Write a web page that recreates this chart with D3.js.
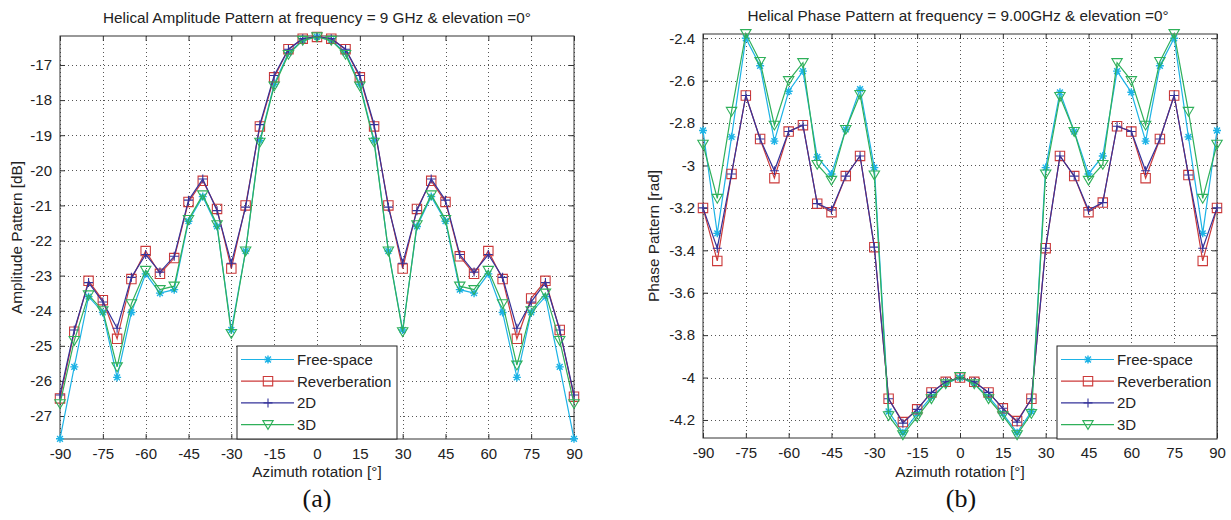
<!DOCTYPE html>
<html>
<head>
<meta charset="utf-8">
<script src="https://cdn.jsdelivr.net/npm/d3@7"></script>
<style>
  body { margin: 0; background: #fff; }
  svg { display: block; }
  text.sans { font-family: "Liberation Sans", Arial, Helvetica, sans-serif; fill: #222; }
  text.serif { font-family: "Liberation Serif", "Times New Roman", serif; fill: #111; }
</style>
</head>
<body>
<svg id="chart" width="1231" height="520"></svg>
<script>
// Azimuth angles (degrees)
const azimuth = [-90,-85,-80,-75,-70,-65,-60,-55,-50,-45,-40,-35,-30,-25,-20,-15,-10,-5,0,
                 5,10,15,20,25,30,35,40,45,50,55,60,65,70,75,80,85,90];

// Amplitude pattern [dB]
const ampFree = [-27.65,-25.6,-23.6,-24.05,-25.9,-24.05,-22.95,-23.5,-23.4,-21.45,-20.75,-21.6,-24.55,-22.3,-19.15,-17.55,-16.65,-16.3,-16.2,
                 -16.3,-16.65,-17.55,-19.15,-22.3,-24.55,-21.6,-20.75,-21.45,-23.4,-23.5,-22.95,-24.05,-25.9,-24.05,-23.6,-25.6,-27.65];
const ampRev  = [-26.5,-24.6,-23.15,-23.7,-24.8,-23.1,-22.3,-22.95,-22.5,-20.9,-20.3,-21.1,-22.8,-21.0,-18.75,-17.35,-16.55,-16.25,-16.2,
                 -16.25,-16.55,-17.35,-18.75,-21.0,-22.8,-21.1,-20.3,-20.9,-22.45,-22.95,-22.3,-23.1,-24.8,-23.65,-23.15,-24.55,-26.45];
const amp2D   = [-26.4,-24.55,-23.2,-23.75,-24.5,-23.05,-22.4,-22.9,-22.45,-20.85,-20.25,-21.15,-22.65,-21.05,-18.7,-17.3,-16.55,-16.25,-16.2,
                 -16.25,-16.55,-17.3,-18.7,-21.05,-22.65,-21.15,-20.25,-20.85,-22.4,-22.9,-22.4,-23.05,-24.5,-23.75,-23.2,-24.55,-26.4];
const amp3D   = [-26.65,-24.85,-23.55,-24.0,-25.6,-23.8,-22.85,-23.4,-23.3,-21.4,-20.7,-21.55,-24.65,-22.3,-19.2,-17.6,-16.7,-16.3,-16.2,
                 -16.3,-16.7,-17.6,-19.2,-22.3,-24.6,-21.55,-20.7,-21.4,-23.3,-23.4,-22.85,-23.8,-25.55,-24.0,-23.5,-24.85,-26.65];

// Phase pattern [rad]
const phFree = [-2.835,-3.32,-2.865,-2.40,-2.53,-2.885,-2.65,-2.555,-2.96,-3.04,-2.83,-2.64,-3.01,-4.16,-4.26,-4.17,-4.09,-4.03,-4.0,
                -4.03,-4.09,-4.17,-4.26,-4.16,-3.01,-2.655,-2.84,-3.04,-2.955,-2.555,-2.655,-2.885,-2.53,-2.40,-2.865,-3.32,-2.835];
const phRev  = [-3.2,-3.45,-3.04,-2.67,-2.875,-3.06,-2.84,-2.81,-3.18,-3.22,-3.05,-2.955,-3.385,-4.10,-4.21,-4.15,-4.07,-4.02,-4.0,
                -4.02,-4.07,-4.145,-4.205,-4.10,-3.39,-2.955,-3.05,-3.22,-3.175,-2.815,-2.84,-3.06,-2.875,-2.67,-3.045,-3.45,-3.2];
const ph2D   = [-3.2,-3.39,-3.04,-2.67,-2.875,-3.025,-2.84,-2.81,-3.18,-3.21,-3.05,-2.955,-3.385,-4.10,-4.215,-4.15,-4.07,-4.02,-4.0,
                -4.02,-4.07,-4.145,-4.21,-4.10,-3.39,-2.955,-3.05,-3.21,-3.175,-2.815,-2.84,-3.025,-2.875,-2.67,-3.045,-3.39,-3.2];
const ph3D   = [-2.9,-3.155,-2.745,-2.378,-2.51,-2.81,-2.60,-2.515,-2.995,-3.07,-2.83,-2.665,-3.045,-4.18,-4.27,-4.185,-4.10,-4.03,-3.995,
                -4.03,-4.10,-4.18,-4.27,-4.17,-3.04,-2.675,-2.84,-3.07,-2.995,-2.515,-2.60,-2.81,-2.51,-2.378,-2.745,-3.155,-2.9];

const seriesNames  = ["Free-space", "Reverberation", "2D", "3D"];
const seriesColors = ["#1db3e6", "#cc3a3a", "#35339a", "#2fb05a"];
const seriesMarks  = ["star", "square", "plus", "triangle"];

// Tick labels
const xTicks     = [-90,-75,-60,-45,-30,-15,0,15,30,45,60,75,90];
const ampTicks   = [-27,-26,-25,-24,-23,-22,-21,-20,-19,-18,-17];
const phaseTicks = [-4.2,-4.0,-3.8,-3.6,-3.4,-3.2,-3.0,-2.8,-2.6,-2.4];

const svg = d3.select("#chart");
svg.append("rect").attr("width", 1231).attr("height", 520).attr("fill", "#fff");

function marker(g, type, color) {
  const p = {
    star: "M-4,0H4M0,-4V4M-2.9,-2.9L2.9,2.9M-2.9,2.9L2.9,-2.9",
    square: "M-4.7,-4.7H4.7V4.7H-4.7Z",
    plus: "M-4.5,0H4.5M0,-4.5V4.5",
    triangle: "M-5.2,-4H5.2L0,4.8Z"
  }[type];
  g.append("path").attr("d", p).attr("fill", "none")
    .attr("stroke", color).attr("stroke-width", type === "star" ? 1.4 : 1.1);
}

function panel(o) {
  const x = d3.scaleLinear().domain([-90, 90]).range([o.left, o.right]);
  const y = d3.scaleLinear().domain(o.yDomain).range([o.bottom, o.top]);
  const g = svg.append("g");

  // dotted grid
  const grid = g.append("g").attr("stroke", "#555").attr("stroke-width", 1)
    .attr("stroke-dasharray", "1,3").attr("shape-rendering", "crispEdges");
  xTicks.forEach(t => grid.append("line")
    .attr("x1", Math.round(x(t)) + 0.5).attr("x2", Math.round(x(t)) + 0.5)
    .attr("y1", o.top).attr("y2", o.bottom));
  o.yTicks.forEach(t => grid.append("line")
    .attr("y1", Math.round(y(t)) + 0.5).attr("y2", Math.round(y(t)) + 0.5)
    .attr("x1", o.left).attr("x2", o.right));

  // axes (inward ticks on all four sides, box on)
  const tk = 5;
  const axB = g.append("g").attr("transform", `translate(0,${o.bottom})`)
    .call(d3.axisBottom(x).tickValues(xTicks).tickSize(-tk).tickPadding(9).tickFormat(d => String(d)));
  const axT = g.append("g").attr("transform", `translate(0,${o.top})`)
    .call(d3.axisTop(x).tickValues(xTicks).tickSize(-tk).tickFormat(""));
  const axL = g.append("g").attr("transform", `translate(${o.left},0)`)
    .call(d3.axisLeft(y).tickValues(o.yTicks).tickSize(-tk).tickPadding(8).tickFormat(o.yFmt));
  const axR = g.append("g").attr("transform", `translate(${o.right},0)`)
    .call(d3.axisRight(y).tickValues(o.yTicks).tickSize(-tk).tickFormat(""));
  [axB, axT, axL, axR].forEach(a => {
    a.select(".domain").remove();
    a.selectAll("line").attr("stroke", "#333");
    a.selectAll("text").attr("class", "sans").attr("font-size", 15);
  });
  g.append("rect").attr("x", o.left).attr("y", o.top)
    .attr("width", o.right - o.left).attr("height", o.bottom - o.top)
    .attr("fill", "none").attr("stroke", "#333").attr("stroke-width", 1);

  // series lines and markers
  const line = d3.line().x((d, i) => x(azimuth[i])).y(d => y(d));
  o.series.forEach((vals, s) => {
    g.append("path").datum(vals).attr("d", line).attr("fill", "none")
      .attr("stroke", seriesColors[s]).attr("stroke-width", 1.2);
    vals.forEach((v, i) => {
      const m = g.append("g").attr("transform", `translate(${x(azimuth[i])},${y(v)})`);
      marker(m, seriesMarks[s], seriesColors[s]);
    });
  });

  // title and axis labels
  g.append("text").attr("class", "sans").attr("x", o.titleX).attr("y", o.titleY)
    .attr("text-anchor", "middle").attr("font-size", 15.3).text(o.title);
  g.append("text").attr("class", "sans").attr("x", (o.left + o.right) / 2).attr("y", 477)
    .attr("text-anchor", "middle").attr("font-size", 15.3).text("Azimuth rotation [°]");
  g.append("text").attr("class", "sans")
    .attr("transform", `translate(${o.ylabelX},${(o.top + o.bottom) / 2}) rotate(-90)`)
    .attr("text-anchor", "middle").attr("font-size", 15.3).text(o.ylabel);
  g.append("text").attr("class", "serif").attr("x", o.captionX).attr("y", 507)
    .attr("text-anchor", "middle").attr("font-size", 26).text(o.caption);

  // legend
  const lg = g.append("g").attr("transform", `translate(${o.legX},${o.legY})`);
  lg.append("rect").attr("width", 160).attr("height", 93).attr("fill", "#fff")
    .attr("stroke", "#222").attr("stroke-width", 1);
  seriesNames.forEach((name, s) => {
    const yy = 13.5 + s * 21.7;
    lg.append("line").attr("x1", 4).attr("x2", 57).attr("y1", yy).attr("y2", yy)
      .attr("stroke", seriesColors[s]).attr("stroke-width", 1.2);
    marker(lg.append("g").attr("transform", `translate(31,${yy})`), seriesMarks[s], seriesColors[s]);
    lg.append("text").attr("class", "sans").attr("x", 60).attr("y", yy).attr("dy", "0.36em")
      .attr("font-size", 15).text(name);
  });
}

panel({
  left: 60, right: 574, top: 36, bottom: 439,
  yDomain: [-27.655, -16.174], yTicks: ampTicks, yFmt: d => String(d),
  series: [ampFree, ampRev, amp2D, amp3D],
  title: "Helical Amplitude Pattern at frequency = 9 GHz & elevation =0°",
  titleX: 317, titleY: 23,
  ylabel: "Amplitude Pattern [dB]", ylabelX: 22,
  caption: "(a)", captionX: 317,
  legX: 237, legY: 346
});

panel({
  left: 703, right: 1217, top: 34, bottom: 438,
  yDomain: [-4.285, -2.38], yTicks: phaseTicks, yFmt: d => String(+d.toFixed(1)),
  series: [phFree, phRev, ph2D, ph3D],
  title: "Helical Phase Pattern at frequency = 9.00GHz & elevation =0°",
  titleX: 958, titleY: 21,
  ylabel: "Phase Pattern [rad]", ylabelX: 659,
  caption: "(b)", captionX: 961,
  legX: 1057, legY: 346
});
</script>
</body>
</html>
